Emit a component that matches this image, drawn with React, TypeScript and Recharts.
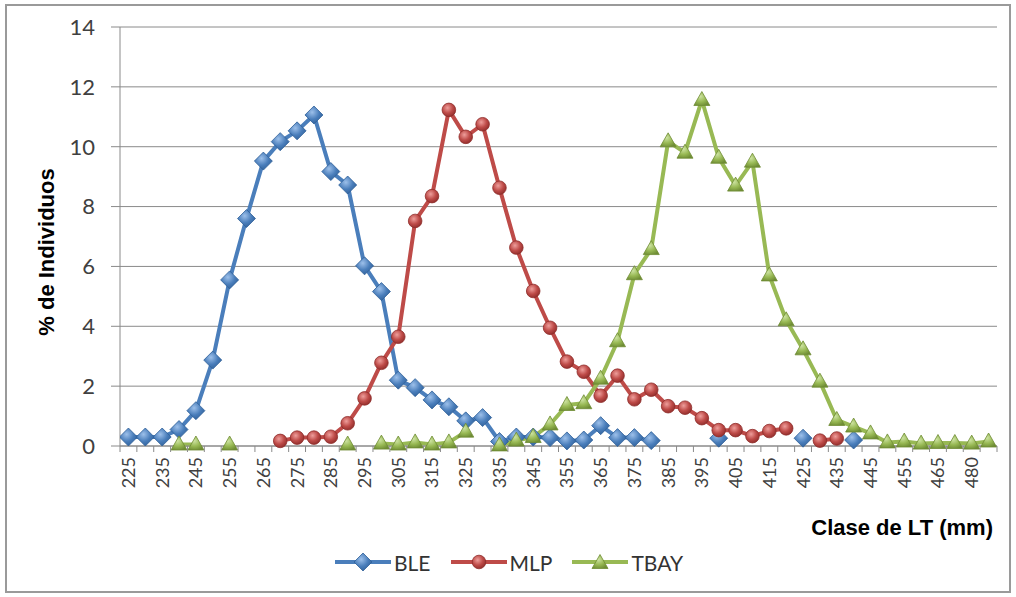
import React from 'react';
import { LineChart, Line, XAxis, YAxis, CartesianGrid, Legend } from 'recharts';

// ---- Data ----
const classes = [
  '225', '230', '235', '240', '245', '250', '255', '260', '265', '270',
  '275', '280', '285', '290', '295', '300', '305', '310', '315', '320',
  '325', '330', '335', '340', '345', '350', '355', '360', '365', '370',
  '375', '380', '385', '390', '395', '400', '405', '410', '415', '420',
  '425', '430', '435', '440', '445', '450', '455', '460', '465', '470',
  '480', '490',
];

const ble: (number | null)[] = [
  0.3, 0.3, 0.3, 0.55, 1.18, 2.87, 5.55, 7.6, 9.52, 10.17,
  10.53, 11.06, 9.17, 8.72, 6.02, 5.16, 2.2, 1.95, 1.54, 1.31,
  0.84, 0.95, 0.15, 0.3, 0.3, 0.28, 0.17, 0.2, 0.68, 0.28,
  0.28, 0.18, null, null, null, 0.26, null, null, null, null,
  0.26, null, null, 0.2, null, null, null, null, null, null,
  null, null,
];

const mlp: (number | null)[] = [
  null, null, null, null, null, null, null, null, null, 0.17,
  0.28, 0.28, 0.31, 0.76, 1.59, 2.78, 3.65, 7.52, 8.35, 11.23,
  10.33, 10.75, 8.63, 6.63, 5.18, 3.95, 2.82, 2.48, 1.68, 2.35,
  1.56, 1.88, 1.33, 1.28, 0.93, 0.53, 0.53, 0.33, 0.5, 0.59,
  null, 0.18, 0.25, null, null, null, null, null, null, null,
  null, null,
];

const tbay: (number | null)[] = [
  null, null, null, 0.05, 0.05, null, 0.05, null, null, null,
  null, null, null, 0.05, null, 0.08, 0.05, 0.12, 0.05, 0.12,
  0.48, null, 0.02, 0.18, 0.3, 0.72, 1.37, 1.43, 2.25, 3.5,
  5.74, 6.58, 10.18, 9.8, 11.56, 9.63, 8.7, 9.5, 5.7, 4.2,
  3.23, 2.15, 0.87, 0.65, 0.42, 0.12, 0.15, 0.08, 0.1, 0.1,
  0.08, 0.15,
];

const seriesNames = ['BLE', 'MLP', 'TBAY'];
const yTicks = [0, 2, 4, 6, 8, 10, 12, 14];
const yTitle = '% de Individuos';
const xTitle = 'Clase de LT (mm)';

const data = classes.map((c, i) => ({
  i,
  cls: c,
  BLE: ble[i],
  MLP: mlp[i],
  TBAY: tbay[i],
}));
const xTicks = classes.map((_, i) => i);

// ---- Layout ----
const W = 1016;
const H = 597;
const M = { top: 27, right: 19, left: 0, bottom: 0 };
const Y_W = 120;
const X_H = 151;
const PLOT_W = W - M.left - M.right - Y_W;
const BAND = PLOT_W / classes.length;
const AXIS_Y = H - M.bottom - X_H;
const GRID = '#8a8a8a';
const TXT = '#404040';

const COLORS = {
  BLE: { line: '#4A7EBB', dark: '#2F5F98', light: '#9DC0EA' },
  MLP: { line: '#BE4B48', dark: '#8E2C2A', light: '#EE9E9B' },
  TBAY: { line: '#98B954', dark: '#6E8C34', light: '#CDE3A2' },
};

const Diamond = ({ cx, cy }: { cx: number; cy: number }) => (
  <polygon
    points={`${cx},${cy - 9} ${cx + 9},${cy} ${cx},${cy + 9} ${cx - 9},${cy}`}
    fill="url(#gBLE) #4F81BD"
    stroke={COLORS.BLE.dark}
    strokeWidth={0.8}
  />
);
const Circle = ({ cx, cy }: { cx: number; cy: number }) => (
  <circle cx={cx} cy={cy} r={6.8} fill="url(#gMLP) #C0504D" stroke={COLORS.MLP.dark} strokeWidth={0.8} />
);
const Triangle = ({ cx, cy }: { cx: number; cy: number }) => (
  <polygon
    points={`${cx},${cy - 8.5} ${cx + 8},${cy + 5.5} ${cx - 8},${cy + 5.5}`}
    fill="url(#gTBAY) #9BBB59"
    stroke={COLORS.TBAY.dark}
    strokeWidth={0.8}
  />
);

const makeDot = (Shape: any) => (props: any) => {
  const { cx, cy, value, index } = props;
  if (value === null || value === undefined || cy === null || cy === undefined || isNaN(cy)) {
    return <g key={`d-${index}`} />;
  }
  return (
    <g key={`d-${index}`}>
      <Shape cx={cx} cy={cy} />
    </g>
  );
};

const XTick = (props: any) => {
  const { x, payload } = props;
  const i = payload.value as number;
  const left = x - BAND / 2;
  return (
    <g>
      <line x1={left} x2={left} y1={AXIS_Y} y2={AXIS_Y + 6} stroke={GRID} strokeWidth={1} />
      {i === classes.length - 1 && (
        <line x1={x + BAND / 2} x2={x + BAND / 2} y1={AXIS_Y} y2={AXIS_Y + 6} stroke={GRID} strokeWidth={1} />
      )}
      {i % 2 === 0 && (
        <text
          transform={`translate(${x},${AXIS_Y + 11}) rotate(-90)`}
          textAnchor="end"
          dy="0.36em"
          fontSize={18}
          fill={TXT}
          fontFamily="Lato, 'Open Sans', sans-serif"
        >
          {classes[i]}
        </text>
      )}
    </g>
  );
};

const Defs = () => (
  <defs>
    {seriesNames.map((n) => {
      const c = (COLORS as any)[n];
      return (
        <radialGradient key={n} id={`g${n}`} cx="40%" cy="35%" r="70%">
          <stop offset="0%" stopColor={c.light} />
          <stop offset="55%" stopColor={c.line} />
          <stop offset="100%" stopColor={c.dark} />
        </radialGradient>
      );
    })}
  </defs>
);

const LegendIcon = ({ name }: { name: string }) => {
  const c = (COLORS as any)[name];
  return (
    <svg width={56} height={24} style={{ display: 'block' }}>
      <line x1={0} y1={12} x2={56} y2={12} stroke={c.line} strokeWidth={4} />
      {name === 'BLE' && <Diamond cx={28} cy={12} />}
      {name === 'MLP' && <Circle cx={28} cy={12} />}
      {name === 'TBAY' && <Triangle cx={28} cy={13} />}
    </svg>
  );
};

const LegendContent = () => (
  <div
    style={{
      display: 'flex',
      alignItems: 'center',
      height: 28,
      fontFamily: "Lato, 'Open Sans', sans-serif",
      fontSize: 21,
      color: '#333',
      whiteSpace: 'nowrap',
    }}
  >
    {seriesNames.map((n, k) => (
      <div key={n} style={{ display: 'flex', alignItems: 'center', marginRight: k < seriesNames.length - 1 ? 20 : 0 }}>
        <LegendIcon name={n} />
        <span style={{ marginLeft: 3 }}>{n}</span>
      </div>
    ))}
  </div>
);

export default function App() {
  return (
    <div style={{ position: 'absolute', left: 0, top: 0, width: W, height: H, background: '#fff' }}>
      <div
        style={{
          position: 'absolute',
          left: 5,
          top: 4,
          width: 1006,
          height: 589,
          border: '2px solid #9a9a9a',
          boxSizing: 'border-box',
        }}
      />
      <div style={{ position: 'absolute', left: 0, top: 0 }}>
        <LineChart width={W} height={H} data={data} margin={M}>
          <CartesianGrid vertical={false} stroke={GRID} strokeWidth={1} />
          <XAxis
            type="number"
            dataKey="i"
            domain={[-0.5, classes.length - 0.5]}
            ticks={xTicks}
            interval={0}
            allowDataOverflow
            height={X_H}
            tickLine={false}
            axisLine={{ stroke: GRID, strokeWidth: 1 }}
            tick={<XTick />}
            label={{
              content: () => (
                <text
                  x={993}
                  y={535}
                  textAnchor="end"
                  fontSize={22}
                  fontWeight="bold"
                  fill="#000"
                  fontFamily="'Liberation Sans', Arial, sans-serif"
                >
                  {xTitle}
                </text>
              ),
            }}
          />
          <YAxis
            type="number"
            domain={[0, 14]}
            ticks={yTicks}
            interval={0}
            width={Y_W}
            tickSize={9}
            tickMargin={16}
            axisLine={{ stroke: GRID, strokeWidth: 1 }}
            tickLine={{ stroke: GRID, strokeWidth: 1 }}
            tick={{ fontSize: 22, fill: TXT, fontFamily: "Lato, 'Open Sans', sans-serif" }}
            label={{
              content: () => (
                <g>
                  <Defs />
                  <text
                    transform="translate(46,252) rotate(-90)"
                    textAnchor="middle"
                    dominantBaseline="central"
                    fontSize={22}
                    fontWeight="bold"
                    fill="#000"
                    fontFamily="'Liberation Sans', Arial, sans-serif"
                  >
                    {yTitle}
                  </text>
                </g>
              ),
            }}
          />
          <Line
            type="linear"
            dataKey="BLE"
            stroke={COLORS.BLE.line}
            strokeWidth={4}
            strokeLinejoin="round"
            dot={makeDot(Diamond)}
            activeDot={false}
            connectNulls={false}
            isAnimationActive={false}
          />
          <Line
            type="linear"
            dataKey="MLP"
            stroke={COLORS.MLP.line}
            strokeWidth={4}
            strokeLinejoin="round"
            dot={makeDot(Circle)}
            activeDot={false}
            connectNulls={false}
            isAnimationActive={false}
          />
          <Line
            type="linear"
            dataKey="TBAY"
            stroke={COLORS.TBAY.line}
            strokeWidth={4}
            strokeLinejoin="round"
            dot={makeDot(Triangle)}
            activeDot={false}
            connectNulls={false}
            isAnimationActive={false}
          />
          <Legend
            verticalAlign="middle"
            align="center"
            layout="horizontal"
            wrapperStyle={{ top: 548, left: 335, width: 400, height: 28 }}
            content={() => <LegendContent />}
          />
        </LineChart>
      </div>
    </div>
  );
}
